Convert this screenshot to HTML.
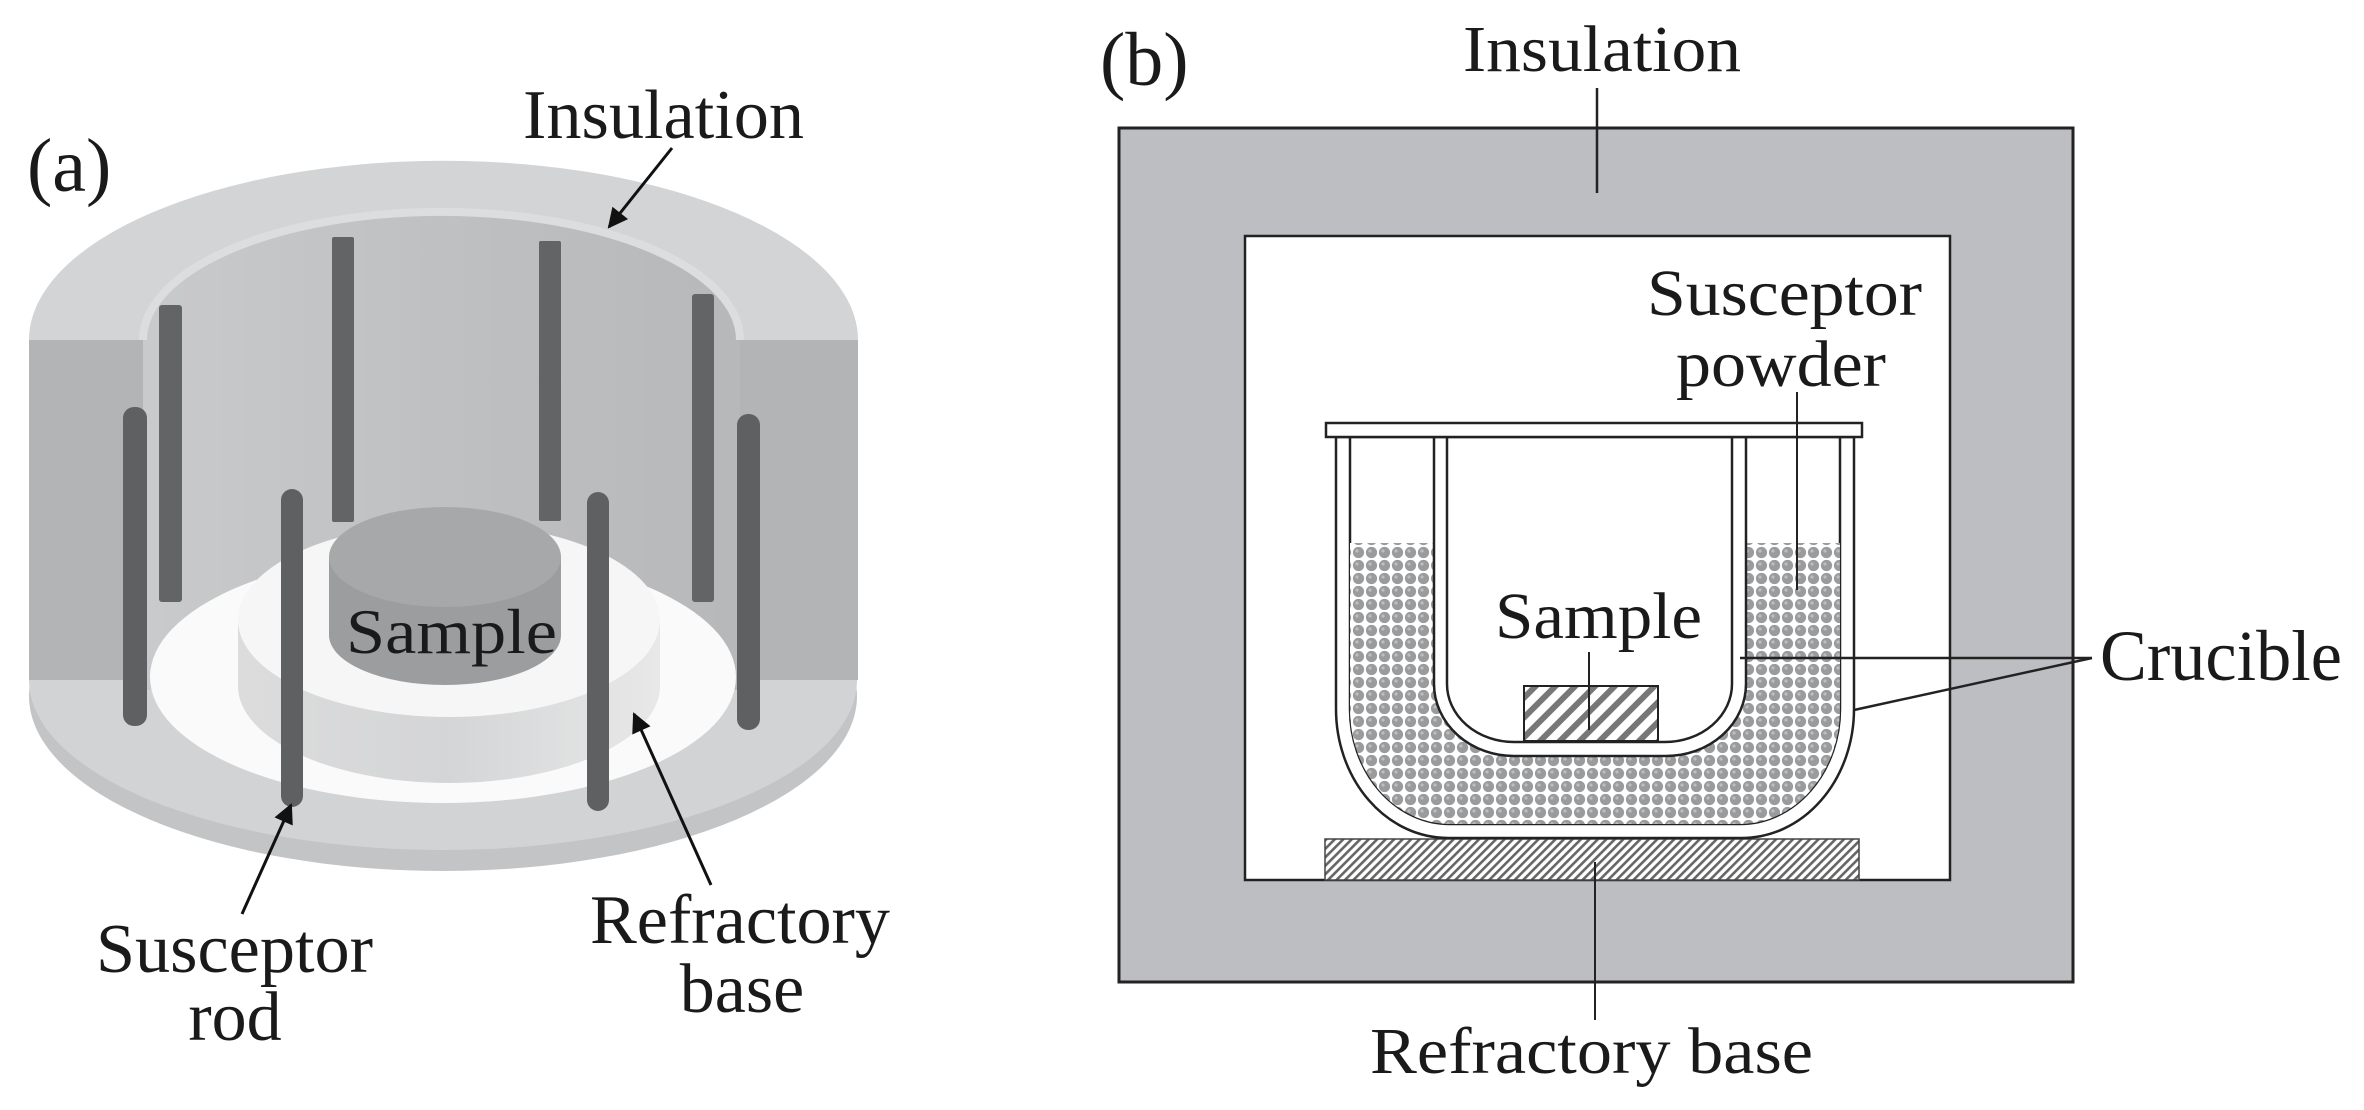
<!DOCTYPE html>
<html><head><meta charset="utf-8"><style>
html,body{margin:0;padding:0;background:#fff;}
svg{display:block;}
text{font-family:"Liberation Serif",serif;fill:#1a1a1a;}
</style></head><body>
<svg width="2364" height="1110" viewBox="0 0 2364 1110" xmlns="http://www.w3.org/2000/svg">
<defs>
<linearGradient id="wall" x1="0" x2="1" y1="0" y2="0">
<stop offset="0" stop-color="#c9cacc"/><stop offset="0.5" stop-color="#bfc0c2"/><stop offset="1" stop-color="#b7b8ba"/>
</linearGradient>
<linearGradient id="refside" x1="0" x2="1" y1="0" y2="0">
<stop offset="0" stop-color="#dcdcdd"/><stop offset="0.5" stop-color="#d4d5d6"/><stop offset="1" stop-color="#e8e8e9"/>
</linearGradient>
<pattern id="powder" width="13" height="13" patternUnits="userSpaceOnUse">
<rect width="13" height="13" fill="#fff"/>
<circle cx="6.5" cy="6.5" r="5.6" fill="#9a9b9d"/>
<circle cx="5" cy="5" r="1.6" fill="#bdbec0"/>
</pattern>
<pattern id="hatchS" width="14" height="14" patternUnits="userSpaceOnUse" patternTransform="rotate(45)">
<rect width="14" height="14" fill="#fff"/><rect x="0" y="0" width="6" height="14" fill="#777"/>
</pattern>
<pattern id="hatchB" width="6" height="6" patternUnits="userSpaceOnUse" patternTransform="rotate(45)">
<rect width="6" height="6" fill="#fff"/><rect x="0" y="0" width="2.6" height="6" fill="#666"/>
</pattern>
<clipPath id="pclip"><rect x="1300" y="543" width="600" height="420"/></clipPath>
<marker id="ah2" viewBox="0 0 10 10" refX="9" refY="5" markerWidth="26" markerHeight="20" markerUnits="userSpaceOnUse" orient="auto">
<path d="M0,0 L10,5 L0,10 z" fill="#111"/>
</marker>
</defs>

<!-- ===== Panel (a) ===== -->
<text x="27" y="191" font-size="76">(a)</text>
<text x="523" y="138" font-size="70" textLength="281" lengthAdjust="spacingAndGlyphs">Insulation</text>

<ellipse cx="443" cy="696" rx="414" ry="175" fill="#c3c4c6"/>
<ellipse cx="443" cy="680" rx="414" ry="170" fill="#d2d3d5"/>
<path d="M143,340 A298,128 0 0 1 740,340 L740,690 L143,690 Z" fill="url(#wall)"/>
<ellipse cx="443" cy="677" rx="293" ry="126" fill="#fafafa"/>
<path d="M29,340 A414,179 0 0 1 858,340 L740,340 A298,128 0 0 0 143,340 Z" fill="#d3d4d6"/>
<path d="M143,340 A298,128 0 0 1 740,340" fill="none" stroke="#dcdddf" stroke-width="8"/>
<rect x="29" y="340" width="114" height="340" fill="#b3b4b6"/>
<rect x="740" y="340" width="118" height="340" fill="#b3b4b6"/>
<g fill="#636466">
<rect x="159" y="305" width="23" height="297" rx="3"/>
<rect x="332" y="237" width="22" height="285" rx="2"/>
<rect x="539" y="241" width="22" height="280" rx="2"/>
<rect x="692" y="294" width="22" height="308" rx="3"/>
</g>
<path d="M238,620 L238,686 A211,97 0 0 0 660,686 L660,620 Z" fill="url(#refside)"/>
<ellipse cx="449" cy="620" rx="211" ry="97" fill="#f6f6f6"/>
<path d="M329,557 L329,635 A116,50 0 0 0 561,635 L561,557 Z" fill="#9c9d9f"/>
<ellipse cx="445" cy="557" rx="116" ry="50" fill="#a7a8aa"/>
<text x="346" y="653" font-size="64" textLength="211" lengthAdjust="spacingAndGlyphs">Sample</text>
<g fill="#5f6062">
<rect x="123" y="407" width="24" height="319" rx="11"/>
<rect x="737" y="414" width="23" height="316" rx="11"/>
<rect x="281" y="489" width="22" height="318" rx="11"/>
<rect x="587" y="492" width="22" height="319" rx="11"/>
</g>
<line x1="672" y1="148" x2="609" y2="227" stroke="#111" stroke-width="3" marker-end="url(#ah2)"/>
<line x1="242" y1="914" x2="291" y2="805" stroke="#111" stroke-width="3" marker-end="url(#ah2)"/>
<line x1="711" y1="885" x2="634" y2="714" stroke="#111" stroke-width="3" marker-end="url(#ah2)"/>
<text x="96" y="972" font-size="70" textLength="277" lengthAdjust="spacingAndGlyphs">Susceptor</text>
<text x="235" y="1040" font-size="70" text-anchor="middle">rod</text>
<text x="590" y="943" font-size="70" textLength="300" lengthAdjust="spacingAndGlyphs">Refractory</text>
<text x="742" y="1012" font-size="70" text-anchor="middle">base</text>

<!-- ===== Panel (b) ===== -->
<text x="1100" y="85" font-size="76">(b)</text>
<text x="1463" y="71" font-size="66" textLength="278" lengthAdjust="spacingAndGlyphs">Insulation</text>
<rect x="1119" y="128" width="954" height="854" fill="#bdbec1" stroke="#222" stroke-width="3"/>
<rect x="1245" y="236" width="705" height="644" fill="#fff" stroke="#222" stroke-width="2.5"/>
<line x1="1597" y1="88" x2="1597" y2="193" stroke="#222" stroke-width="2.5"/>

<text x="1647" y="315" font-size="66" textLength="275" lengthAdjust="spacingAndGlyphs">Susceptor</text>
<text x="1676" y="386" font-size="66" textLength="210" lengthAdjust="spacingAndGlyphs">powder</text>

<rect x="1325" y="839" width="534" height="41" fill="url(#hatchB)" stroke="#444" stroke-width="1.5"/>

<path d="M1336,437 L1336,709 A112,129 0 0 0 1448,838 L1742,838 A112,129 0 0 0 1854,709 L1854,437 Z" fill="#fff" stroke="#222" stroke-width="2.5"/>
<path d="M1350,437 L1350,709 A100,115 0 0 0 1450,824 L1740,824 A100,115 0 0 0 1840,709 L1840,437 Z" fill="#fff" stroke="#222" stroke-width="2.5"/>
<path d="M1350,437 L1350,709 A100,115 0 0 0 1450,824 L1740,824 A100,115 0 0 0 1840,709 L1840,437 Z" fill="url(#powder)" clip-path="url(#pclip)"/>
<path d="M1434,437 L1434,684 A80,72 0 0 0 1514,756 L1666,756 A80,72 0 0 0 1746,684 L1746,437 Z" fill="#fff" stroke="#222" stroke-width="2.5"/>
<path d="M1447,437 L1447,684 A67,58 0 0 0 1514,742 L1665,742 A67,58 0 0 0 1732,684 L1732,437 Z" fill="#fff" stroke="#222" stroke-width="2.5"/>
<rect x="1326" y="423" width="536" height="14" fill="#fff" stroke="#222" stroke-width="2.5"/>

<rect x="1524" y="686" width="134" height="55" fill="url(#hatchS)" stroke="#222" stroke-width="2"/>
<text x="1495" y="638" font-size="66" textLength="207" lengthAdjust="spacingAndGlyphs">Sample</text>
<line x1="1589" y1="652" x2="1589" y2="730" stroke="#222" stroke-width="2"/>

<line x1="1797" y1="392" x2="1797" y2="590" stroke="#222" stroke-width="2"/>
<line x1="1740" y1="658" x2="2092" y2="658" stroke="#222" stroke-width="2.5"/>
<line x1="1854" y1="710" x2="2092" y2="658" stroke="#222" stroke-width="2.5"/>
<line x1="1595" y1="862" x2="1595" y2="1020" stroke="#222" stroke-width="2"/>
<text x="2100" y="680" font-size="72" textLength="242" lengthAdjust="spacingAndGlyphs">Crucible</text>
<text x="1370" y="1073" font-size="66" textLength="443" lengthAdjust="spacingAndGlyphs">Refractory base</text>
</svg>
</body></html>
